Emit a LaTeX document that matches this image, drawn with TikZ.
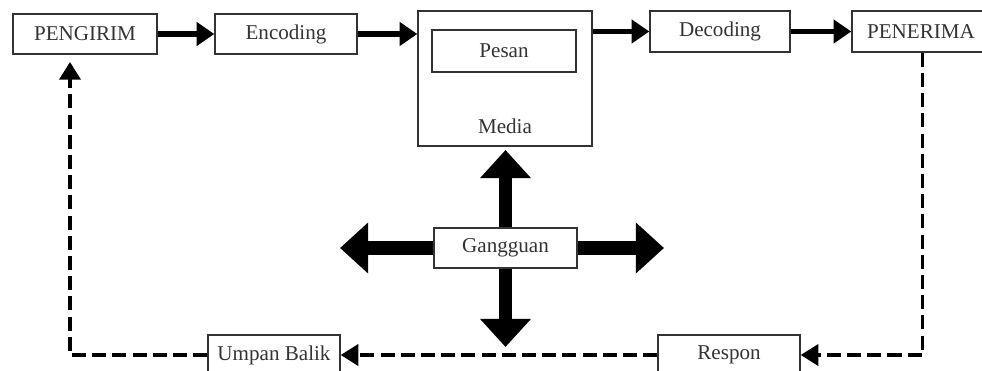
\documentclass[tikz,border=0pt]{standalone}
\usepackage{fontspec}
\setmainfont{Liberation Serif}
\usetikzlibrary{arrows.meta,calc}
\begin{document}
\begin{tikzpicture}[x=0.02cm,y=-0.02cm,
  box/.style={draw=black!80,line width=0.8pt,rectangle,inner sep=0pt,font=\fontsize{12}{14}\selectfont,text=black!80},
  flow/.style={line width=3.3pt,-{Triangle[length=10pt,width=13pt]}},
  fb/.style={line width=1.9pt,dash pattern=on 8pt off 3.5pt,-{Triangle[length=10pt,width=12pt]}},
  fbline/.style={line width=1.9pt,dash pattern=on 8pt off 3.5pt},
  big/.style={line width=7.5pt,-{Triangle[length=16pt,width=28pt]}}]
\useasboundingbox (0,0) rectangle (982,371);
\clip (0,0) rectangle (982,371);
\node[box,minimum width=144*0.02cm,minimum height=40*0.02cm] (pengirim) at (85,34) {PENGIRIM};
\node[box,minimum width=142*0.02cm,minimum height=40*0.02cm] (encoding) at (286,34) {Encoding};
\node[box,minimum width=174*0.02cm,minimum height=135*0.02cm] (media) at (505,78.5) {};
\node[box,line width=1.2pt,minimum width=144*0.02cm,minimum height=42*0.02cm] (pesan) at (504,51) {Pesan};
\node[font=\fontsize{12}{14}\selectfont,text=black!80] (medialabel) at (505,126) {Media};
\node[box,minimum width=140*0.02cm,minimum height=41*0.02cm] (decoding) at (720,31.5) {Decoding};
\node[box,minimum width=143*0.02cm,minimum height=41*0.02cm,text width=143*0.02cm,align=center] (penerima) at (923.5,31.5) {PENERIMA\hspace*{0.1cm}};
\node[box,minimum width=143*0.02cm,minimum height=40*0.02cm] (gangguan) at (505.5,248) {Gangguan};
\node[box,minimum width=132*0.02cm,minimum height=40*0.02cm] (umpan) at (274,355) {Umpan Balik};
\node[box,minimum width=142*0.02cm,minimum height=40*0.02cm] (respon) at (729,355) {Respon};
\coordinate (fbtip) at (70,62);
\coordinate (upt) at (505.5,150);
\coordinate (dnt) at (505.5,347);
\coordinate (lft) at (340,248);
\coordinate (rgt) at (664,248);
% top flow
\draw[flow] (pengirim.east) -- (encoding.west);
\draw[flow] (encoding.east) -- (encoding.east -| media.west);
\draw[flow] (media.east |- decoding.west) -- (decoding.west);
\draw[flow] (decoding.east) -- (penerima.west);
% feedback
\draw[fb] ([xshift=-0.02cm]penerima.south) -- ([xshift=-0.02cm]penerima.south |- respon.east) -- (respon.east);
\draw[fb] (respon.west) -- (umpan.east);
\draw[fbline] (umpan.west) -- (umpan.west -| fbtip) -- ($(fbtip)+(0,18)$);
\draw[line width=1.9pt,-{Triangle[length=10pt,width=12pt]}] ($(fbtip)+(0,20)$) -- (fbtip);
% noise
\draw[big] (gangguan.north) -- (upt);
\draw[big] (gangguan.south) -- (dnt);
\draw[big] (gangguan.west) -- (lft);
\draw[big] (gangguan.east) -- (rgt);
\end{tikzpicture}
\end{document}
